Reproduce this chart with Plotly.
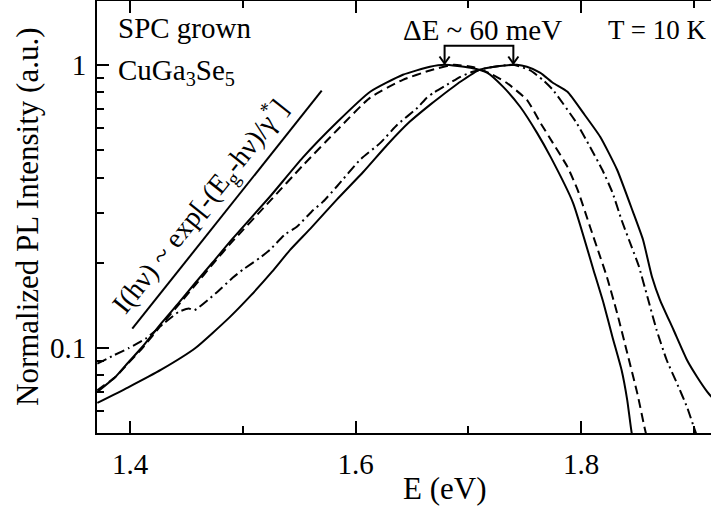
import math
import plotly.graph_objects as go

# Normalized PL spectra of SPC-grown CuGa3Se5, T = 10 K
# curve 1: solid, low-energy peak
e_s1 = [1.371, 1.387, 1.398, 1.411, 1.428, 1.443, 1.458, 1.473, 1.490, 1.524,
        1.553, 1.584, 1.613, 1.642, 1.666, 1.679, 1.702, 1.717, 1.731, 1.746,
        1.761, 1.773, 1.793, 1.811, 1.820, 1.828, 1.836, 1.841, 1.845, 1.849]
i_s1 = [0.070, 0.079, 0.0885, 0.101, 0.1226, 0.144, 0.170, 0.200, 0.241, 0.342,
        0.469, 0.629, 0.803, 0.922, 0.984, 1.0, 0.976, 0.937, 0.836, 0.711,
        0.575, 0.473, 0.325, 0.189, 0.144, 0.109, 0.0836, 0.0655, 0.050, 0.043]

# curve 2: dashed, low-energy peak
e_d = [1.371, 1.387, 1.398, 1.411, 1.428, 1.443, 1.458, 1.473, 1.490, 1.524,
       1.553, 1.584, 1.613, 1.642, 1.666, 1.687, 1.705, 1.720, 1.734, 1.752,
       1.764, 1.775, 1.788, 1.797, 1.808, 1.817, 1.823, 1.832, 1.841, 1.850,
       1.857, 1.862]
i_d = [0.071, 0.079, 0.088, 0.100, 0.121, 0.142, 0.167, 0.197, 0.236, 0.330,
       0.44, 0.59, 0.766, 0.885, 0.955, 1.0, 0.98, 0.93, 0.864, 0.752,
       0.624, 0.530, 0.436, 0.362, 0.268, 0.21, 0.178, 0.133, 0.096, 0.069,
       0.051, 0.043]

# curve 3: dash-dot, high-energy peak
e_dd = [1.371, 1.386, 1.399, 1.414, 1.432, 1.443, 1.452, 1.457, 1.476, 1.491,
        1.500, 1.515, 1.524, 1.537, 1.548, 1.561, 1.571, 1.584, 1.604, 1.622,
        1.637, 1.655, 1.663, 1.669, 1.681, 1.693, 1.704, 1.717, 1.740, 1.755,
        1.766, 1.775, 1.796, 1.808, 1.819, 1.828, 1.836, 1.845, 1.851, 1.859,
        1.867, 1.876, 1.885, 1.894, 1.901, 1.906]
i_dd = [0.088, 0.0944, 0.100, 0.108, 0.124, 0.134, 0.138, 0.136, 0.156, 0.177,
        0.189, 0.208, 0.222, 0.251, 0.268, 0.303, 0.328, 0.374, 0.462, 0.53,
        0.614, 0.705, 0.764, 0.796, 0.85, 0.907, 0.945, 0.976, 1.0, 0.955,
        0.885, 0.816, 0.624, 0.513, 0.425, 0.353, 0.283, 0.227, 0.196, 0.151,
        0.116, 0.0907, 0.0752, 0.0619, 0.0513, 0.045]

# curve 4: solid, high-energy peak
e_s2 = [1.371, 1.398, 1.428, 1.458, 1.488, 1.507, 1.526, 1.542, 1.560, 1.584,
        1.607, 1.628, 1.648, 1.666, 1.675, 1.693, 1.710, 1.728, 1.743, 1.752,
        1.764, 1.775, 1.788, 1.802, 1.817, 1.832, 1.846, 1.855, 1.863, 1.870,
        1.882, 1.894, 1.903, 1.912, 1.916]
i_s2 = [0.064, 0.0725, 0.0840, 0.100, 0.128, 0.153, 0.186, 0.222, 0.264, 0.336,
        0.419, 0.521, 0.629, 0.722, 0.770, 0.871, 0.96, 0.99, 1.0, 0.984,
        0.937, 0.864, 0.803, 0.676, 0.557, 0.426, 0.303, 0.241, 0.178, 0.148,
        0.116, 0.0907, 0.079, 0.070, 0.067]

# exponential low-energy tail guide
fit_e = [1.402, 1.570]
fit_i = [0.117, 0.81]

# peak positions of the two spectral groups (ΔE ~ 60 meV)
peak_left = 1.679
peak_right = 1.740

x_ticks = [1.4, 1.6, 1.8]
x_minor = [1.5, 1.7, 1.9]
y_ticks = [0.1, 1]
y_minor = [0.05, 0.06, 0.07, 0.08, 0.09, 0.2, 0.3, 0.4, 0.5, 0.6, 0.7, 0.8, 0.9]

W, H = 711, 510
ML, MR, MT, MB = 97, 0, 1, 77
X_RANGE = [1.3707, 1.9153]
Y_RANGE = [math.log10(0.0501), math.log10(1.68)]
FONT = "Liberation Serif"
INK = "black"

pw, ph = W - ML - MR, H - MT - MB


def px(x, y):
    """pixel position in the page -> paper coordinates"""
    return (x - ML) / pw, (H - MB - y) / ph


fig = go.Figure()

line_styles = [
    (e_s1, i_s1, "solid"),
    (e_d, i_d, "9px,5px"),
    (e_dd, i_dd, "10px,4px,2px,4px"),
    (e_s2, i_s2, "solid"),
]
for ex, iy, dash in line_styles:
    fig.add_trace(go.Scatter(x=ex, y=iy, mode="lines",
                             line=dict(color=INK, width=2, dash=dash,
                                       shape="spline", smoothing=0.5),
                             hoverinfo="skip", showlegend=False))

fig.add_trace(go.Scatter(x=fit_e, y=fit_i, mode="lines",
                         line=dict(color=INK, width=2),
                         hoverinfo="skip", showlegend=False))

# bracket marking the peak shift
top = 1.167
tip = 1.01
fig.add_trace(go.Scatter(x=[peak_left, peak_left, peak_right, peak_right],
                         y=[tip, top, top, tip], mode="lines",
                         line=dict(color=INK, width=2),
                         hoverinfo="skip", showlegend=False))
head_dx, head_y = 0.0045, 1.07
for pk in (peak_left, peak_right):
    fig.add_trace(go.Scatter(x=[pk - head_dx, pk, pk + head_dx],
                             y=[head_y, tip, head_y], mode="lines",
                             line=dict(color=INK, width=2),
                             hoverinfo="skip", showlegend=False))

axis_common = dict(showgrid=False, zeroline=False, ticks="inside",
                   tickcolor=INK, tickwidth=2, ticklen=12,
                   tickfont=dict(family=FONT, size=29, color=INK))

fig.update_xaxes(range=X_RANGE, showline=True, linecolor=INK, linewidth=2,
                 mirror="ticks", tickmode="array", tickvals=x_ticks,
                 ticktext=[f"{v:.1f}" for v in x_ticks],
                 minor=dict(tickmode="array", tickvals=x_minor, ticks="inside",
                            ticklen=7, tickwidth=2, tickcolor=INK),
                 ticklabelstandoff=4,
                 **axis_common)

fig.update_yaxes(type="log", range=Y_RANGE, showline=True, linecolor=INK,
                 linewidth=2, mirror=False, tickmode="array", tickvals=y_ticks,
                 ticktext=["0.1", "1"],
                 minor=dict(tickmode="array", tickvals=y_minor, ticks="inside",
                            ticklen=7, tickwidth=2, tickcolor=INK),
                 ticklabelstandoff=3,
                 **axis_common)

# right-hand tick marks without a spine
fig.update_layout(yaxis2=dict(type="log", range=Y_RANGE, overlaying="y",
                              side="right", showline=False, showgrid=False,
                              zeroline=False, ticks="inside", tickcolor=INK,
                              tickwidth=2, ticklen=7, tickmode="array",
                              tickvals=y_ticks, showticklabels=False,
                              minor=dict(tickmode="array", tickvals=y_minor,
                                         ticks="inside", ticklen=2,
                                         tickwidth=2, tickcolor=INK)))


def label(text, x, y, size=29, xanchor="center", yanchor="middle", angle=0):
    ax, ay = px(x, y)
    fig.add_annotation(text=text, x=ax, y=ay, xref="paper", yref="paper",
                       xanchor=xanchor, yanchor=yanchor, showarrow=False,
                       textangle=angle,
                       font=dict(family=FONT, size=size, color=INK))


label("SPC grown", 116, 28, xanchor="left")
label("CuGa<sub>3</sub>Se<sub>5</sub>", 116, 72, xanchor="left")
label("ΔE ~ 60 meV", 483, 30)
label("T = 10 K", 606, 30, size=27, xanchor="left")
label("I(hν) ~ exp[-(E<sub>g</sub>-hν)/γ<sup>*</sup>]", 200, 206, size=28,
      angle=-51.5)
label("Normalized PL Intensity (a.u.)", 27, 217, size=31, angle=-90)
label("E (eV)", 444, 488, size=31)

fig.update_layout(width=W, height=H, margin=dict(l=ML, r=MR, t=MT, b=MB),
                  paper_bgcolor="white", plot_bgcolor="white",
                  showlegend=False)

fig.write_html("out.html")
